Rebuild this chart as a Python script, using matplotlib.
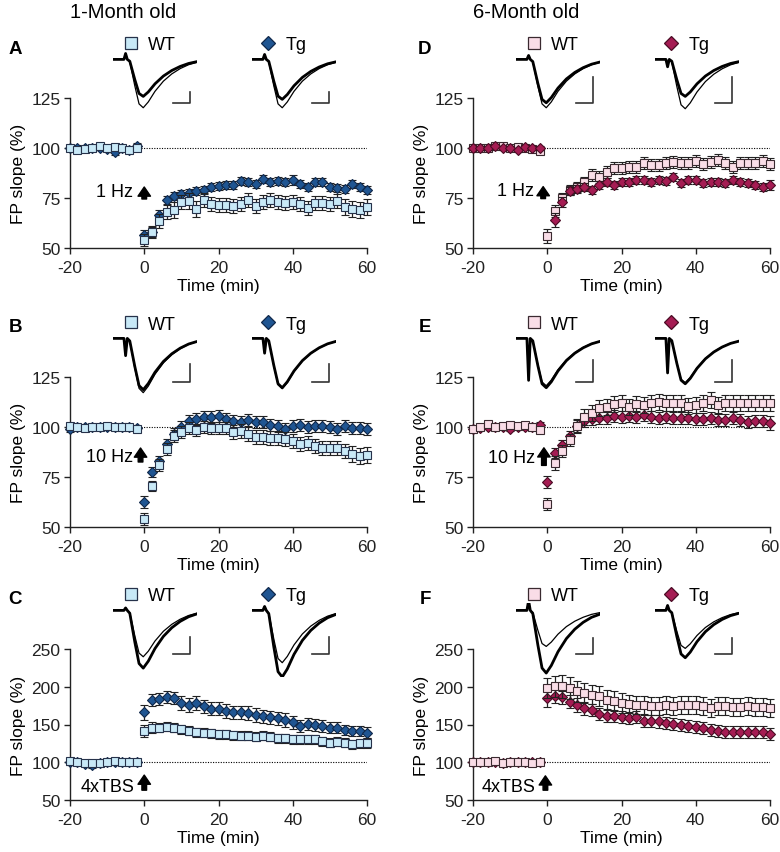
import numpy as np
import matplotlib
matplotlib.use("Agg")
import matplotlib.pyplot as plt
from matplotlib.lines import Line2D
from matplotlib.transforms import Bbox, TransformedBbox

plt.rcParams['font.family'] = ['Liberation Sans', 'DejaVu Sans']
plt.rcParams['axes.unicode_minus'] = False

# sampling times (min)
time = [-20, -18, -16, -14, -12, -10, -8, -6, -4, -2,
        0, 2, 4, 6, 8, 10, 12, 14, 16, 18, 20, 22, 24, 26, 28, 30,
        32, 34, 36, 38, 40, 42, 44, 46, 48, 50, 52, 54, 56, 58, 60]

# ---- A: 1-month, 1 Hz
A_wt = [100, 99, 99.5, 100, 101, 100, 100.5, 100, 99, 100,
        53.8, 58, 63.3, 68, 69, 73, 73.3, 69.7, 74, 72, 71.3, 71.3, 71, 72, 74, 71,
        73, 74, 73, 72.7, 73, 72, 70, 72.7, 72.7, 72, 73.5, 70.5, 69.7, 69, 70.5]
A_wt_sem = [1.5, 1.2, 1.0, 1.0, 1.5, 1.2, 1.0, 1.2, 1.5, 1.2,
            3.0, 3.0, 3.5, 3.5, 4.0, 3.5, 4.0, 4.0, 3.5, 3.5, 3.5, 3.5, 3.5, 3.5, 3.5, 3.5,
            3.5, 3.5, 3.5, 3.5, 3.5, 3.5, 3.5, 3.5, 3.5, 3.5, 3.5, 4.0, 4.0, 4.0, 4.0]
A_tg = [100, 100, 100, 100, 100, 99.5, 98, 100, 99, 101,
        56.3, 58, 66.3, 74, 76, 77, 77.7, 78.3, 78.8, 80.5, 81, 81.7, 81.3, 83.3, 83, 82,
        84.7, 83, 83.3, 83, 83.8, 82, 80.5, 83, 83, 80.5, 80, 79.7, 82, 80.5, 78.8]
A_tg_sem = [1.5, 1.5, 1.0, 1.0, 1.2, 1.2, 1.5, 1.0, 1.5, 1.5,
            2.5, 2.5, 2.5, 2.0, 2.0, 2.0, 2.0, 2.0, 2.0, 2.0, 2.0, 2.0, 2.0, 2.0, 2.0, 2.0,
            2.0, 2.0, 2.0, 2.0, 2.5, 2.0, 2.0, 2.0, 2.0, 2.0, 2.0, 2.0, 2.0, 2.0, 2.0]

# ---- B: 1-month, 10 Hz
B_wt = [100.5, 100, 99.5, 100, 100, 100.5, 100, 100, 100, 99,
        53.9, 70.4, 81, 89, 95.6, 97.3, 99.5, 98.6, 99.8, 99.5, 99.5, 99.5, 97.3, 98.1, 96.5, 94.8,
        94.8, 94.3, 94.3, 94, 93.2, 91.5, 92, 90.3, 89.3, 89.3, 89.3, 88.2, 86.5, 85.7, 86]
B_wt_sem = [1.5, 1.0, 1.0, 1.0, 1.0, 1.2, 1.0, 1.0, 1.0, 1.2,
            3.0, 2.5, 3.0, 3.0, 3.0, 3.0, 3.0, 3.0, 3.0, 3.0, 3.0, 3.0, 3.5, 3.5, 3.5, 3.5,
            3.5, 3.5, 3.5, 3.5, 3.5, 3.5, 3.5, 3.5, 3.5, 3.5, 3.5, 3.5, 4.0, 4.0, 4.0]
B_tg = [99, 100, 100, 100, 100, 100, 100, 100, 100, 99.5,
        62.5, 77.7, 83.2, 91.5, 96.5, 99.8, 103, 104, 104.8, 105, 105.3, 104, 103, 102.3, 103.6, 102.6,
        102.3, 101, 100.3, 99, 100.6, 101, 99.8, 100.6, 100.3, 99.8, 99, 100.6, 99.3, 99.3, 99]
B_tg_sem = [1.5, 1.0, 1.0, 1.0, 1.0, 1.0, 1.0, 1.0, 1.0, 1.0,
            3.0, 2.5, 2.5, 2.5, 3.0, 3.0, 3.0, 3.0, 3.0, 3.0, 3.0, 3.0, 3.0, 3.0, 3.0, 3.0,
            3.0, 3.0, 3.0, 3.0, 3.0, 3.0, 3.0, 3.0, 3.0, 3.0, 3.0, 3.0, 3.0, 3.0, 3.0]

# ---- C: 1-month, 4xTBS
C_wt = [101, 100, 99, 99, 99.5, 100, 101, 100, 100, 100,
        141.6, 146, 146, 147, 146, 144, 141.6, 140, 139.4, 138.5, 137, 137, 136, 135, 135, 134,
        135, 134, 131.6, 132, 130.5, 130.5, 130.5, 130.5, 128, 126, 127, 126, 124, 125, 125.5]
C_wt_sem = [3, 3, 3, 3, 3, 3, 3, 3, 3, 3,
            8, 7, 6, 6, 6, 6, 6, 6, 6, 6, 6, 6, 6, 6, 6, 6,
            6, 6, 6, 6, 6, 6, 6, 6, 6, 6, 6, 6, 6, 6, 6]
C_tg = [100, 100, 98, 96, 99, 100, 100, 100, 100, 100,
        166, 183, 183.6, 187, 184.5, 178.3, 176, 178.3, 174, 171, 171, 168, 166, 166, 165, 162.4,
        160.6, 159.3, 158, 156, 152.7, 148.2, 150.4, 149, 148.2, 146, 146, 143, 141.6, 141.6, 139.4]
C_tg_sem = [3, 3, 3, 4, 3, 3, 3, 3, 3, 3,
            10, 8, 8, 8, 8, 9, 9, 9, 9, 9, 9, 9, 9, 9, 9, 9,
            9, 9, 9, 9, 8, 8, 8, 8, 8, 7, 7, 7, 7, 7, 7]

# ---- D: 6-month, 1 Hz
D_wt = [100, 100, 100, 101, 101, 100, 100.5, 100, 99.5, 98.5,
        55.8, 68.3, 75, 79, 80.7, 83.2, 86.5, 85.7, 88.2, 89.8, 89.8, 90.7, 90.7, 92.3, 91.5, 91.5,
        92.3, 92.8, 92.3, 92.3, 93.5, 91.8, 93.2, 94, 92.3, 90.7, 92.6, 92.6, 92.6, 93.5, 92]
D_wt_sem = [1.2, 1.0, 1.0, 1.0, 1.0, 1.0, 1.0, 1.0, 1.2, 1.5,
            3.5, 3.0, 2.5, 2.5, 2.5, 2.5, 3.0, 3.0, 3.0, 3.0, 3.0, 3.0, 3.0, 3.0, 3.0, 3.0,
            3.0, 3.0, 3.0, 3.0, 3.0, 3.0, 3.0, 3.0, 3.0, 3.0, 3.0, 3.0, 3.0, 3.0, 3.0]
D_tg = [100, 100, 100, 101, 100, 100, 99, 100.5, 100, 100,
        46, 64.2, 73, 78.6, 79.6, 80.7, 79, 81.5, 82.8, 81.5, 82.8, 82.8, 84, 84, 83.2, 84,
        83.5, 85.4, 82.7, 84, 84, 82.4, 83.2, 83.2, 82.7, 84, 83.2, 82.4, 81.5, 80.3, 81.5]
D_tg_sem = [1.0, 1.0, 1.0, 1.0, 1.0, 1.0, 1.0, 1.0, 1.0, 1.0,
            3.5, 3.5, 2.5, 2.0, 2.0, 2.0, 2.0, 2.0, 2.0, 2.0, 2.0, 2.0, 2.0, 2.0, 2.0, 2.0,
            2.0, 2.0, 2.0, 2.0, 2.0, 2.0, 2.0, 2.0, 2.0, 2.0, 2.0, 2.0, 2.0, 2.0, 2.5]

# ---- E: 6-month, 10 Hz
E_wt = [99, 100, 101.5, 100, 100.5, 101, 100.5, 101, 100, 98.5,
        61.6, 82.2, 88, 93.7, 100.3, 105.2, 106.9, 109.3, 109.8, 111.5, 112.1, 109.8, 111.5, 111, 112.1, 112.6,
        112.1, 112.1, 112.1, 110.5, 111, 112.1, 113.5, 111, 111.8, 111.8, 111.8, 111.8, 111.8, 112.1, 111.8]
E_wt_sem = [1.5, 1.2, 1.5, 1.2, 1.2, 1.2, 1.2, 1.2, 1.2, 1.5,
            3.0, 3.5, 3.0, 3.0, 3.5, 4.0, 4.0, 4.0, 4.0, 4.0, 4.0, 4.0, 4.0, 4.0, 4.0, 4.0,
            4.0, 4.0, 4.0, 4.0, 4.0, 4.0, 4.0, 4.0, 4.0, 4.0, 4.0, 4.0, 4.0, 4.0, 4.0]
E_tg = [99, 99.5, 100, 100, 100, 99, 100, 100, 100, 101,
        72.3, 86.8, 91, 95.7, 100.3, 102.8, 104, 104.4, 104.7, 105.6, 104.9, 105.6, 104.9, 106, 105.2, 104.7,
        105.2, 104.4, 104.7, 104.4, 104, 104, 104.4, 103.6, 103.3, 104.4, 103.6, 102.3, 102.8, 102.8, 102]
E_tg_sem = [1.0, 1.0, 1.0, 1.0, 1.0, 1.0, 1.0, 1.0, 1.0, 1.5,
            3.0, 2.5, 2.5, 2.5, 3.0, 3.0, 3.0, 3.0, 3.0, 3.0, 3.0, 3.0, 3.0, 3.0, 3.0, 3.0,
            3.0, 3.0, 3.0, 3.0, 3.0, 3.0, 3.0, 3.0, 3.0, 3.0, 3.0, 3.0, 3.0, 3.0, 3.5]

# ---- F: 6-month, 4xTBS
F_wt = [100, 100, 100, 101, 99.5, 100, 100, 100, 99.5, 100,
        198.5, 200.7, 200.7, 198.5, 194, 192, 189.6, 187.4, 183, 181, 178.6, 177.6, 176.4, 175.5, 174, 174,
        176.4, 174, 175.5, 176.4, 176.4, 174, 172, 174, 174, 173.3, 173.3, 174, 173.3, 173.3, 172]
F_wt_sem = [3, 3, 3, 3, 3, 3, 3, 3, 3, 3,
            13, 14, 15, 15, 14, 13, 13, 13, 13, 13, 13, 12, 12, 12, 12, 12,
            12, 12, 12, 12, 12, 12, 12, 12, 12, 12, 12, 12, 12, 12, 12]
F_tg = [100, 100, 100, 100, 99, 100, 100, 100, 100, 100,
        184.8, 188.3, 186, 180.4, 176, 171.4, 169.8, 164, 161.7, 160.8, 159.5, 158.2, 159.5, 155, 155, 154,
        152, 150.7, 149.4, 148.5, 146.3, 145, 143, 141.9, 140.5, 140.5, 139.6, 139.6, 139.6, 140.5, 137.7]
F_tg_sem = [3, 3, 3, 3, 3, 3, 3, 3, 3, 3,
            12, 10, 9, 9, 9, 9, 8, 8, 8, 8, 8, 8, 8, 8, 8, 8,
            8, 8, 8, 8, 8, 8, 8, 8, 8, 8, 8, 8, 8, 8, 8]

stim_labels = ['1 Hz', '10 Hz', '4xTBS']
panel_letters = [['A', 'B', 'C'], ['D', 'E', 'F']]
ages = ['1-Month old', '6-Month old']

# example fEPSP trace template (normalised)
tpl_x = [0.0, 0.13, 0.15, 0.17, 0.2, 0.26, 0.31, 0.36, 0.42, 0.5, 0.6, 0.7, 0.8, 0.9, 1.0]
tpl_y = [0.0, 0.0, 0.0, 0.0, -0.05, -0.55, -0.92, -1.0, -0.88, -0.66, -0.45, -0.3, -0.19, -0.11, -0.06]
# (thin depth, thick depth, stimulus artifact) per inset, [col][row][WT, Tg]
trace_shape = [
    [[(0.98, 0.75, 0.12), (0.98, 0.81, 0.10)],
     [(1.10, 1.04, -0.35), (1.02, 1.00, -0.30)],
     [(0.94, 1.17, 0.05), (1.06, 1.35, 0.08)]],
    [[(0.98, 0.88, 0.08), (1.00, 0.75, -0.15)],
     [(0.96, 1.00, -0.85), (0.90, 0.92, -0.70)],
     [(0.73, 1.27, 0.20), (0.77, 0.96, 0.10)]],
]
bar_top = [[-0.66, -0.52, -0.54], [-0.36, -0.44, -0.56]]

data = [
    [(A_wt, A_wt_sem, A_tg, A_tg_sem), (B_wt, B_wt_sem, B_tg, B_tg_sem), (C_wt, C_wt_sem, C_tg, C_tg_sem)],
    [(D_wt, D_wt_sem, D_tg, D_tg_sem), (E_wt, E_wt_sem, E_tg, E_tg_sem), (F_wt, F_wt_sem, F_tg, F_tg_sem)],
]

colors = [
    {'wt': '#c8e9f7', 'wt_e': '#26324a', 'tg': '#1f5592', 'tg_e': '#10284a'},
    {'wt': '#f9dde7', 'wt_e': '#3a2a30', 'tg': '#a51c53', 'tg_e': '#4a0c24'},
]
top_series = [['wt', 'wt', 'wt'], ['tg', 'wt', 'wt']]

# arrow: (x, tip, base, text x, text y)
arrows = [
    [(0.0, 80.5, 74.5, -3.0, 78.3), (-1.0, 89.5, 82.5, -3.0, 85.0), (0.0, 83.0, 63.0, -2.6, 68.5)],
    [(-1.1, 80.7, 74.7, -3.7, 78.5), (-0.9, 89.6, 80.8, -3.2, 84.6), (-0.5, 82.0, 63.0, -3.2, 68.5)],
]

W, H = 780, 853
fig = plt.figure(figsize=(W / 100, H / 100), dpi=100)


def px_axes(left, top, width, height):
    return fig.add_axes([left / W, 1 - (top + height) / H, width / W, height / H])


col_left = [70, 473]
row_top = [99, 378, 650]
ax_w = 297
ax_h = [150, 150, 151]

for c in range(2):
    col = colors[c]
    for r in range(3):
        ax = px_axes(col_left[c], row_top[r], ax_w, ax_h[r])
        wt, wt_sem, tg, tg_sem = data[c][r]
        ymax = 250 if r == 2 else 125
        ax.set_xlim(-20, 60)
        ax.set_ylim(50, ymax)
        ax.hlines(100, -1, 60, colors='k', linestyles=(0, (1, 1.3)), lw=0.8, zorder=1)

        clip = TransformedBbox(Bbox([[-0.06, 0.0], [1.06, 1.3]]), ax.transAxes)
        z_wt, z_tg = (4, 3) if top_series[c][r] == 'wt' else (3, 4)
        for y, s, mk, ms, fc, ec, z in ((wt, wt_sem, 's', 6.0, col['wt'], col['wt_e'], z_wt),
                                        (tg, tg_sem, 'D', 5.4, col['tg'], col['tg_e'], z_tg)):
            eb = ax.errorbar(time, y, yerr=s, fmt=mk, ms=ms, mfc=fc, mec=ec, mew=0.8,
                             ecolor='#222222', elinewidth=0.9, capsize=3, capthick=0.9, zorder=z)
            arts = [eb.lines[0]] + list(eb.lines[1]) + list(eb.lines[2])
            for a in arts:
                a.set_clip_box(clip)
                a.set_clip_on(True)

        for sp in ('top', 'right'):
            ax.spines[sp].set_visible(False)
        for sp in ('left', 'bottom'):
            ax.spines[sp].set_linewidth(1.0)
            ax.spines[sp].set_color('#222222')
        ax.set_xticks([-20, 0, 20, 40, 60])
        if r == 2:
            ax.set_yticks([50, 100, 150, 200, 250])
        else:
            ax.set_yticks([50, 75, 100, 125])
        ax.tick_params(direction='out', length=4, width=1, labelsize=12.5, pad=3, colors='#222222')
        ax.tick_params(axis='x', pad=4.5)
        ax.set_xlabel('Time (min)', fontsize=12.5, labelpad=2.5)
        ax.set_ylabel('FP slope (%)', fontsize=12.5, labelpad=4)

        # stimulation arrow
        xa, tip, base, tx, ty = arrows[c][r]
        ax.annotate('', xy=(xa, tip), xytext=(xa, base),
                    arrowprops=dict(arrowstyle='simple,head_width=0.75,head_length=0.55,tail_width=0.28',
                                    fc='k', ec='k', shrinkA=0, shrinkB=0, mutation_scale=12))
        ax.text(tx, ty, stim_labels[r], ha='right', va='center', fontsize=13)

        # legend
        handles = [Line2D([], [], ls='none', marker='s', ms=8, mfc=col['wt'], mec=col['wt_e'], mew=0.9),
                   Line2D([], [], ls='none', marker='D', ms=7.5, mfc=col['tg'], mec=col['tg_e'], mew=0.9)]
        ax.legend(handles, ['WT', 'Tg'], ncol=2, loc='center left',
                  bbox_to_anchor=(52 / ax_w, 1 + 53 / ax_h[r]), frameon=False, fontsize=13,
                  handlelength=1.0, handletextpad=0.45, columnspacing=4.6,
                  borderpad=0, borderaxespad=0)

        # panel letter
        fig.text((col_left[c] - 55 if c == 0 else col_left[c] - 48) / W,
                 1 - (row_top[r] - 50) / H, panel_letters[c][r],
                 fontsize=13.5, fontweight='bold', ha='center', va='center')

        # example traces
        for g, off in enumerate((43, 182)):
            iax = px_axes(col_left[c] + off, row_top[r] - 46, 84, 74)
            d_thin, d_thick, art = trace_shape[c][r][g]
            for depth, lw in ((d_thin, 0.9), (d_thick, 2.0)):
                ys = [depth * v for v in tpl_y]
                ys[2] = art
                iax.plot(tpl_x, ys, color='k', lw=lw, solid_joinstyle='round', solid_capstyle='round')
            iax.plot([0.72, 0.92, 0.92], [-0.88, -0.88, bar_top[c][r]], color='#333333', lw=1.2)
            iax.set_xlim(0, 1)
            iax.set_ylim(-1.35, 0.15)
            iax.axis('off')

    fig.text(col_left[c] / W, 1 - 13 / H, ages[c], fontsize=14.5, ha='left', va='center')

fig.savefig('out.png', dpi=100)
